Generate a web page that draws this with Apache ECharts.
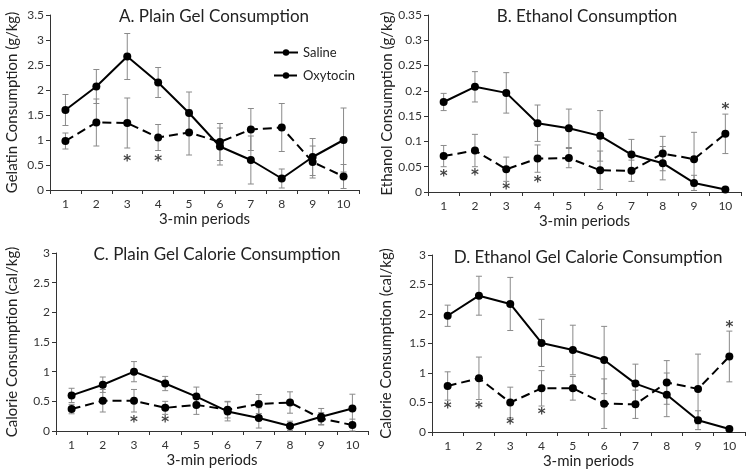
<!DOCTYPE html>
<html><head><meta charset="utf-8">
<script src="https://cdn.jsdelivr.net/npm/echarts@6/dist/echarts.min.js"></script>
<style>html,body{margin:0;padding:0;background:#fff}#c{width:750px;height:473px}</style>
</head><body><div id="c"></div>
<script>
const periods = ['1','2','3','4','5','6','7','8','9','10'];

// A. Plain Gel Consumption (g/kg)
const plainSaline    = [1.6, 2.07, 2.67, 2.15, 1.54, 0.87, 0.6, 0.23, 0.66, 1.0];
const plainSalineErr = [0.31, 0.34, 0.46, 0.3, 0.42, 0.37, 0.48, 0.19, 0.37, 0.64];
const plainOxy       = [0.98, 1.35, 1.34, 1.05, 1.15, 0.96, 1.21, 1.25, 0.56, 0.27];
const plainOxyErr    = [0.16, 0.47, 0.5, 0.26, 0.45, 0.37, 0.42, 0.48, 0.32, 0.24];
const plainStars     = [[2, 0.62], [3, 0.62]];

// B. Ethanol Consumption (g/kg)
const ethSaline    = [0.178, 0.208, 0.196, 0.136, 0.126, 0.111, 0.074, 0.057, 0.018, 0.005];
const ethSalineErr = [0.017, 0.03, 0.04, 0.036, 0.038, 0.05, 0.03, 0.033, 0.015, 0.002];
const ethOxy       = [0.071, 0.082, 0.045, 0.066, 0.067, 0.043, 0.042, 0.076, 0.065, 0.115];
const ethOxyErr    = [0.021, 0.032, 0.024, 0.027, 0.019, 0.038, 0.021, 0.034, 0.053, 0.039];
const ethStars     = [[0, 0.036], [1, 0.038], [2, 0.01], [3, 0.024], [9, 0.168]];

// C. Plain Gel Calorie Consumption (cal/kg)
const plainCalSaline    = [0.6, 0.78, 1.0, 0.8, 0.58, 0.33, 0.22, 0.085, 0.24, 0.38];
const plainCalSalineErr = [0.12, 0.13, 0.17, 0.12, 0.16, 0.16, 0.17, 0.08, 0.14, 0.24];
const plainCalOxy       = [0.37, 0.51, 0.51, 0.39, 0.44, 0.36, 0.455, 0.48, 0.21, 0.1];
const plainCalOxyErr    = [0.08, 0.19, 0.19, 0.11, 0.16, 0.14, 0.16, 0.18, 0.1, 0.1];
const plainCalStars     = [[2, 0.18], [3, 0.18]];

// D. Ethanol Gel Calorie Consumption (cal/kg)
const ethCalSaline    = [1.97, 2.31, 2.17, 1.51, 1.39, 1.22, 0.82, 0.63, 0.2, 0.05];
const ethCalSalineErr = [0.18, 0.33, 0.45, 0.4, 0.42, 0.57, 0.33, 0.37, 0.16, 0.02];
const ethCalOxy       = [0.78, 0.91, 0.5, 0.74, 0.74, 0.48, 0.47, 0.84, 0.73, 1.28];
const ethCalOxyErr    = [0.24, 0.36, 0.26, 0.3, 0.2, 0.42, 0.24, 0.37, 0.59, 0.43];
const ethCalStars     = [[0, 0.44], [1, 0.44], [2, 0.16], [3, 0.33], [9, 1.81]];

const FONT = 'Lato';
const AX = '#333';

const panels = [
  {title:'A. Plain Gel Consumption', tx:209, ty:3, yName:'Gelatin Consumption (g/kg)', max:3.5, interval:0.5,
   grid:{left:50, top:15, width:309, height:175}, nameGap:30,
   s:plainSaline, se:plainSalineErr, o:plainOxy, oe:plainOxyErr, stars:plainStars},
  {title:'B. Ethanol Consumption', tx:582, ty:3, yName:'Ethanol Consumption (g/kg)', max:0.35, interval:0.05,
   grid:{left:428, top:15, width:313, height:177}, nameGap:33,
   s:ethSaline, se:ethSalineErr, o:ethOxy, oe:ethOxyErr, stars:ethStars},
  {title:'C. Plain Gel Calorie Consumption', tx:212, ty:241, yName:'Calorie Consumption (cal/kg)', max:3, interval:0.5,
   grid:{left:56, top:253, width:312, height:178}, nameGap:36,
   s:plainCalSaline, se:plainCalSalineErr, o:plainCalOxy, oe:plainCalOxyErr, stars:plainCalStars},
  {title:'D. Ethanol Gel Calorie Consumption', tx:583, ty:244, yName:'Calorie Consumption (cal/kg)', max:3, interval:0.5,
   grid:{left:432, top:255, width:313, height:177}, nameGap:38,
   s:ethCalSaline, se:ethCalSalineErr, o:ethCalOxy, oe:ethCalOxyErr, stars:ethCalStars}
];

function errRender(params, api) {
  const x = api.value(0), lo = api.value(1), hi = api.value(2);
  const pHi = api.coord([x, hi]);
  const pLo = api.coord([x, lo]);
  const w = 3;
  const st = {stroke:'#8a8a8a', lineWidth:1};
  return {type:'group', children:[
    {type:'line', shape:{x1:pHi[0], y1:pHi[1], x2:pLo[0], y2:pLo[1]}, style:st},
    {type:'line', shape:{x1:pHi[0]-w, y1:pHi[1], x2:pHi[0]+w, y2:pHi[1]}, style:st},
    {type:'line', shape:{x1:pLo[0]-w, y1:pLo[1], x2:pLo[0]+w, y2:pLo[1]}, style:st}
  ]};
}

const option = {
  animation:false,
  backgroundColor:'#fff',
  textStyle:{fontFamily:FONT},
  title: panels.map(p => ({text:p.title, left:p.tx, top:p.ty, textAlign:'center',
    textStyle:{fontFamily:FONT, fontSize:17, fontWeight:'normal', color:'#222'}})),
  legend:{data:['Saline','Oxytocin'], orient:'vertical', left:268, top:41, itemWidth:24, itemHeight:8, itemGap:10,
    textStyle:{fontFamily:FONT, fontSize:13, color:'#222'}},
  grid: panels.map(p => Object.assign({containLabel:false}, p.grid)),
  xAxis: panels.map((p, i) => ({type:'category', gridIndex:i, data:periods, boundaryGap:true,
    name:'3-min periods', nameLocation:'middle', nameGap:22,
    nameTextStyle:{fontFamily:FONT, fontSize:15, color:'#222'},
    axisLine:{lineStyle:{color:AX, width:1}},
    axisTick:{show:true, length:4, alignWithLabel:false, lineStyle:{color:AX}},
    axisLabel:{fontFamily:FONT, fontSize:12, color:'#333', margin:8},
    splitLine:{show:false}})),
  yAxis: panels.map((p, i) => ({type:'value', gridIndex:i, min:0, max:p.max, interval:p.interval,
    name:p.yName, nameLocation:'middle', nameGap:p.nameGap,
    nameTextStyle:{fontFamily:FONT, fontSize:15, color:'#222'},
    axisLine:{show:true, lineStyle:{color:AX, width:1}},
    axisTick:{show:true, length:4, lineStyle:{color:AX}},
    axisLabel:{fontFamily:FONT, fontSize:12, color:'#333', margin:6},
    splitLine:{show:false}})),
  series: []
};

panels.forEach((p, i) => {
  const errS = p.s.map((v, k) => [k, v - p.se[k], v + p.se[k]]);
  const errO = p.o.map((v, k) => [k, v - p.oe[k], v + p.oe[k]]);
  option.series.push(
    {type:'custom', xAxisIndex:i, yAxisIndex:i, renderItem:errRender, data:errS, encode:{x:0, y:[1,2]}, z:1, silent:true},
    {type:'custom', xAxisIndex:i, yAxisIndex:i, renderItem:errRender, data:errO, encode:{x:0, y:[1,2]}, z:1, silent:true},
    {type:'line', name:'Saline', xAxisIndex:i, yAxisIndex:i, data:p.s, symbol:'circle', symbolSize:8,
      lineStyle:{color:'#000', width:2, type:'solid'}, itemStyle:{color:'#000'}, z:3},
    {type:'line', name:'Oxytocin', xAxisIndex:i, yAxisIndex:i, data:p.o, symbol:'circle', symbolSize:8,
      lineStyle:{color:'#000', width:2, type:[9,5]}, itemStyle:{color:'#000'}, z:3},
    {type:'scatter', xAxisIndex:i, yAxisIndex:i, data:p.stars, symbol:'circle', symbolSize:1,
      itemStyle:{color:'rgba(0,0,0,0)'}, silent:true, z:4,
      label:{show:true, formatter:'*', position:'inside', fontFamily:'DejaVu Sans', fontSize:15, fontWeight:'bold', color:'#111', offset:[0,3]}}
  );
});

const chart = echarts.init(document.getElementById('c'), null, {renderer:'canvas'});
chart.setOption(option);
</script>
</body></html>
